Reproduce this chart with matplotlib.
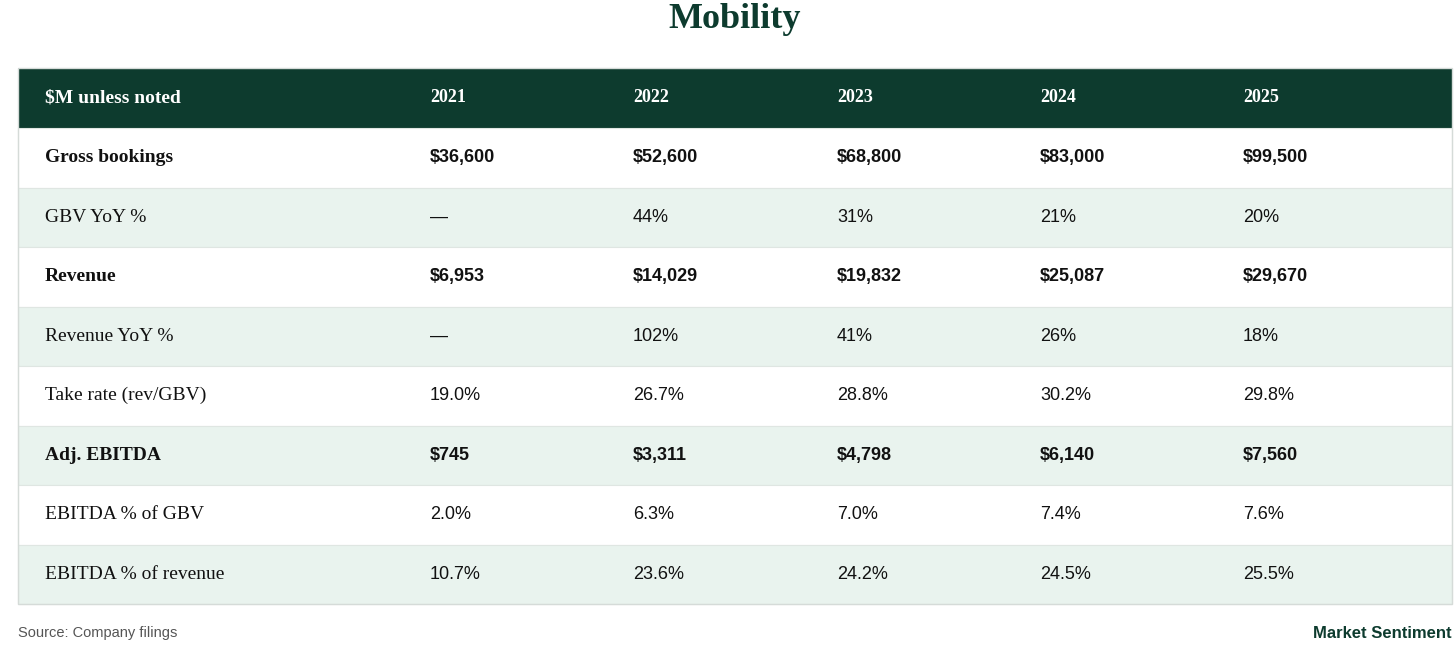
import matplotlib
matplotlib.use("Agg")
import matplotlib.pyplot as plt
from matplotlib.patches import Rectangle

years = ["2021", "2022", "2023", "2024", "2025"]
row_labels = ["Gross bookings", "GBV YoY %", "Revenue", "Revenue YoY %",
              "Take rate (rev/GBV)", "Adj. EBITDA", "EBITDA % of GBV",
              "EBITDA % of revenue"]
gross_bookings = ["$36,600", "$52,600", "$68,800", "$83,000", "$99,500"]
gbv_yoy = ["—", "44%", "31%", "21%", "20%"]
revenue = ["$6,953", "$14,029", "$19,832", "$25,087", "$29,670"]
revenue_yoy = ["—", "102%", "41%", "26%", "18%"]
take_rate = ["19.0%", "26.7%", "28.8%", "30.2%", "29.8%"]
adj_ebitda = ["$745", "$3,311", "$4,798", "$6,140", "$7,560"]
ebitda_gbv = ["2.0%", "6.3%", "7.0%", "7.4%", "7.6%"]
ebitda_rev = ["10.7%", "23.6%", "24.2%", "24.5%", "25.5%"]
rows = [gross_bookings, gbv_yoy, revenue, revenue_yoy, take_rate,
        adj_ebitda, ebitda_gbv, ebitda_rev]
bold_rows = {0, 2, 5}

GREEN = "#0d3b2e"
LIGHT = "#e9f3ee"
W, H = 1456, 653

fig = plt.figure(figsize=(W / 100, H / 100), dpi=100)
ax = fig.add_axes([0, 0, 1, 1])
ax.set_xlim(0, W)
ax.set_ylim(H, 0)
ax.axis("off")

left, right = 18, 1452
top, head_h, row_h = 68, 60, 59.5
col_x = [45, 430, 633, 837, 1040, 1243]

ax.text(735, 20, "Mobility", ha="center", va="center", fontsize=26,
        fontweight="bold", family="Liberation Serif", color=GREEN)

ax.add_patch(Rectangle((left, top), right - left, head_h, color=GREEN, lw=0))
ax.text(col_x[0], top + head_h / 2, "$M unless noted", ha="left", va="center",
        fontsize=14, fontweight="bold", family="Liberation Serif", color="white")
for x, y in zip(col_x[1:], years):
    ax.text(x, top + head_h / 2, y, ha="left", va="center", fontsize=13,
            fontweight="bold", family="Liberation Serif", color="white")

for i, (label, vals) in enumerate(zip(row_labels, rows)):
    y0 = top + head_h + i * row_h
    fc = LIGHT if i % 2 == 1 else "white"
    ax.add_patch(Rectangle((left, y0), right - left, row_h, facecolor=fc,
                           edgecolor="#dfe6e2", lw=0.8))
    yc = y0 + row_h / 2
    wt = "bold" if i in bold_rows else "normal"
    ax.text(col_x[0], yc, label, ha="left", va="center", fontsize=14,
            fontweight=wt, family="Liberation Serif", color="#111111")
    for x, v in zip(col_x[1:], vals):
        ax.text(x, yc, v, ha="left", va="center", fontsize=13,
                fontweight=wt, family="Liberation Sans", color="#111111")

bottom = top + head_h + len(rows) * row_h
ax.add_patch(Rectangle((left, top), right - left, bottom - top, fill=False,
                       edgecolor="#d5dbd8", lw=1))

ax.text(left, 633, "Source: Company filings", ha="left", va="center",
        fontsize=10.5, family="Liberation Sans", color="#555555")
ax.text(right, 633, "Market Sentiment", ha="right", va="center",
        fontsize=12, fontweight="bold", family="Liberation Sans", color=GREEN)

fig.savefig("out.png", dpi=100)
